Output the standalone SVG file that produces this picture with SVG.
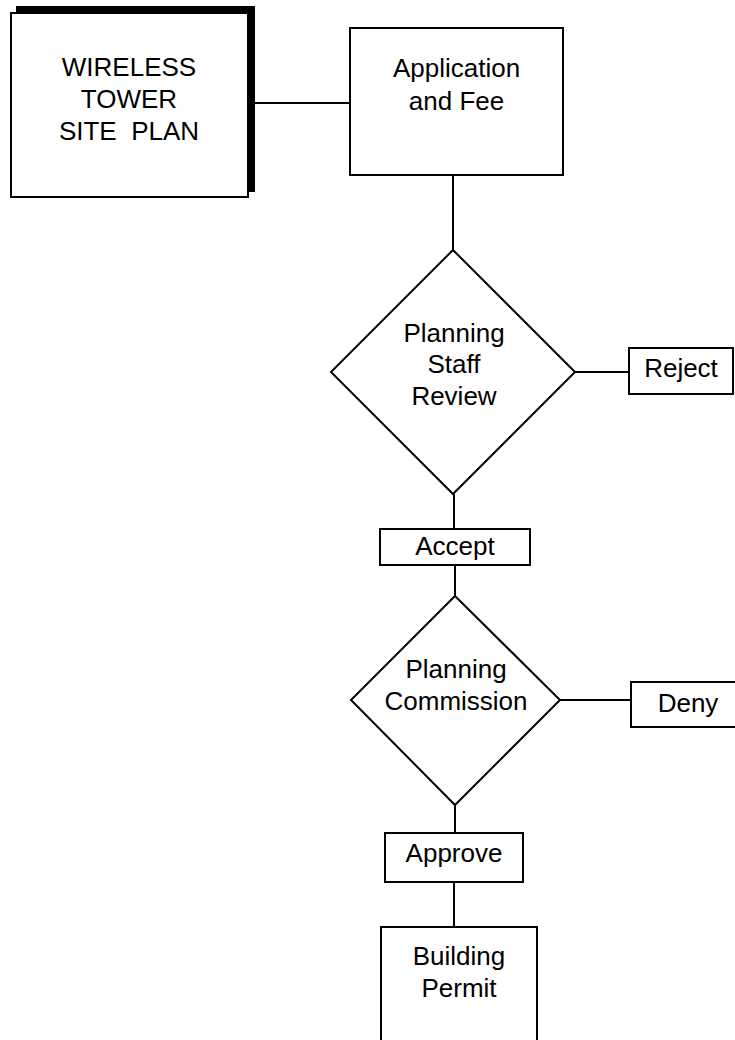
<svg xmlns="http://www.w3.org/2000/svg" width="735" height="1040" viewBox="0 0 735 1040">
<style>
.box{fill:#fff;stroke:#000;stroke-width:2}
.ln{fill:none;stroke:#000;stroke-width:2}
text{font-family:"Liberation Sans",Arial,sans-serif;font-size:26px;fill:#000;text-anchor:middle}
</style>
<rect width="735" height="1040" fill="#fff"/>
<g id="connectors">
<line class="ln" x1="248" y1="103" x2="350" y2="103"/>
<line class="ln" x1="453" y1="175" x2="453" y2="250"/>
<line class="ln" x1="575" y1="372" x2="629" y2="372"/>
<line class="ln" x1="454" y1="494" x2="454" y2="529"/>
<line class="ln" x1="455" y1="565" x2="455" y2="596"/>
<line class="ln" x1="560" y1="700" x2="631" y2="700"/>
<line class="ln" x1="455" y1="805" x2="455" y2="833"/>
<line class="ln" x1="454" y1="882" x2="454" y2="927"/>
</g>
<g id="site-plan">
<rect x="16" y="6" width="239" height="186" fill="#000"/>
<rect class="box" x="11" y="13" width="237" height="184"/>
<text x="129" y="76">WIRELESS</text>
<text x="129" y="108">TOWER</text>
<text x="129" y="140" xml:space="preserve">SITE  PLAN</text>
</g>
<g id="application">
<rect class="box" x="350" y="28" width="213" height="147"/>
<text x="456.5" y="77">Application</text>
<text x="456.5" y="110">and Fee</text>
</g>
<g id="staff-review">
<polygon class="box" points="453,250 575,372 453,494 331,372"/>
<text x="454" y="342">Planning</text>
<text x="454" y="373">Staff</text>
<text x="454" y="405">Review</text>
</g>
<g id="reject">
<rect class="box" x="629" y="348" width="104" height="46"/>
<text x="681" y="377">Reject</text>
</g>
<g id="accept">
<rect class="box" x="380" y="529" width="150" height="36"/>
<text x="455" y="555">Accept</text>
</g>
<g id="commission">
<polygon class="box" points="455,596 560,700 455,805 351,700"/>
<text x="456" y="678">Planning</text>
<text x="456" y="710">Commission</text>
</g>
<g id="deny">
<rect class="box" x="631" y="682" width="114" height="45"/>
<text x="688" y="712">Deny</text>
</g>
<g id="approve">
<rect class="box" x="385" y="833" width="138" height="49"/>
<text x="454" y="862">Approve</text>
</g>
<g id="building-permit">
<rect class="box" x="381" y="927" width="156" height="130"/>
<text x="459" y="965">Building</text>
<text x="459" y="997">Permit</text>
</g>
</svg>
